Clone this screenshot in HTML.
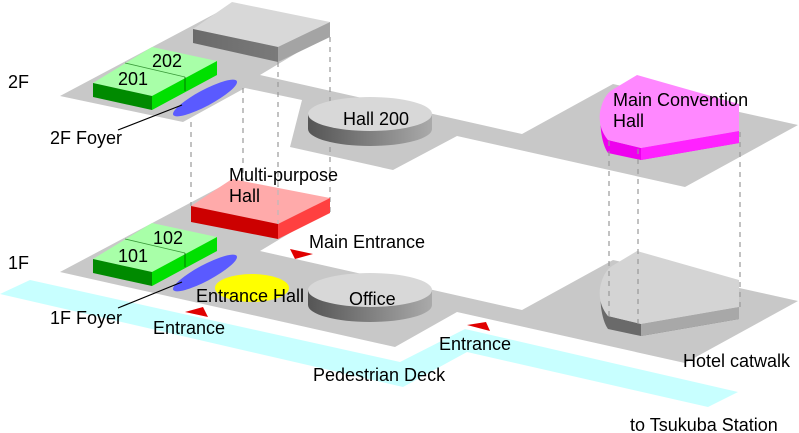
<!DOCTYPE html>
<html><head><meta charset="utf-8"><style>
html,body{margin:0;padding:0;background:#fff}
svg{display:block}
text{font-family:"Liberation Sans",Arial,sans-serif;font-size:18px;fill:#000}
</style></head><body>
<svg width="799" height="433" viewBox="0 0 799 433" xmlns="http://www.w3.org/2000/svg">
<defs>
<linearGradient id="cyl" x1="0" x2="1" y1="0" y2="0"><stop offset="0" stop-color="#555"/><stop offset="1" stop-color="#aaa"/></linearGradient>
<linearGradient id="frontg" x1="0" x2="1"><stop offset="0" stop-color="#6a6a6a"/><stop offset="1" stop-color="#7a7a7a"/></linearGradient>
</defs>
<polygon points="0,294 30,280 400,362 465,329 738,392 708,407 467,352 403,387" fill="#c8ffff"/>
<polygon points="60,96 222,10 330,33 260,75 522,134 613,84 798,125 685,187 457,136 393,170 290,147 302,100 245,88 183,122" fill="#c8c8c8"/>
<polygon points="60,272 222,186 330,209 260,251 522,310 613,260 798,301 685,363 457,312 395,347" fill="#c8c8c8"/>

<g stroke="#999" stroke-width="1.2" stroke-dasharray="5,5" fill="none">
<line x1="191" y1="122" x2="191" y2="206"/>
<line x1="243" y1="88" x2="243" y2="210"/>
<line x1="278" y1="62" x2="278" y2="224"/>
<line x1="330" y1="37" x2="330" y2="213"/>
</g>

<polygon points="193,29 232,2 330,22 278,47" fill="#d8d8d8"/>
<polygon points="193,29 278,47 278,62 193,43" fill="url(#frontg)"/>
<polygon points="278,47 330,22 330,37 278,62" fill="#a4a4a4"/>

<polygon points="93,83 152,47 217,61 152,96" fill="#a8ffa8"/>
<polygon points="93,83 152,96 152,110 93,97" fill="#008a00"/>
<polygon points="152,96 217,61 217,75 152,110" fill="#00e000"/>
<line x1="125" y1="63" x2="185" y2="77" stroke="#3a9a3a" stroke-width="0.8"/>
<line x1="185" y1="77" x2="185" y2="91" stroke="#006000" stroke-width="0.8"/>
<text x="118" y="85">201</text>
<text x="152" y="67">202</text>
<ellipse cx="205" cy="98" rx="36" ry="8" transform="rotate(-28 205 98)" fill="#5a5aff"/>
<line x1="182" y1="105" x2="118" y2="130" stroke="#000" stroke-width="1.2"/>
<text x="50" y="144">2F Foyer</text>
<text x="8" y="88">2F</text>

<path d="M308,114 v15 a62,17 0 0 0 124,0 v-15 z" fill="url(#cyl)"/>
<ellipse cx="370" cy="114" rx="62" ry="17" fill="#d8d8d8"/>
<text x="343" y="125">Hall 200</text>

<path d="M600,117 L601,131 Q603,146 608,153 L641,160 L739,143 L739,131 L641,148 L608,140 Q600,130 600,117 Z" fill="#ee00ee"/>
<polygon points="641,148 739,131 739,143 641,160" fill="#ff22ff"/>
<path d="M637,75 L739,104 L739,131 L641,148 L608,140 Q598,128 600,112 Q603,96 612,90 Z" fill="#ff88ff"/>
<text x="613" y="106">Main Convention</text>
<text x="613" y="127">Hall</text>

<polygon points="191,206 232,179 330,198 278,224" fill="#ffaaaa"/>
<polygon points="191,206 278,224 278,239 191,222" fill="#cc0000"/>
<polygon points="278,224 330,198 330,213 278,239" fill="#ff4040"/>
<line x1="278" y1="180" x2="278" y2="224" stroke="#bbb" stroke-width="1.2" stroke-dasharray="5,5"/>
<text x="229" y="181">Multi-purpose</text>
<text x="229" y="202">Hall</text>

<polygon points="93,259 152,223 217,237 152,272" fill="#a8ffa8"/>
<polygon points="93,259 152,272 152,286 93,273" fill="#008a00"/>
<polygon points="152,272 217,237 217,251 152,286" fill="#00e000"/>
<line x1="125" y1="239" x2="185" y2="253" stroke="#3a9a3a" stroke-width="0.8"/>
<line x1="185" y1="253" x2="185" y2="267" stroke="#006000" stroke-width="0.8"/>
<text x="118" y="262">101</text>
<text x="153" y="244">102</text>
<ellipse cx="205" cy="273" rx="36" ry="8" transform="rotate(-28 205 273)" fill="#5a5aff"/>
<line x1="182" y1="282" x2="118" y2="308" stroke="#000" stroke-width="1.2"/>
<text x="50" y="324">1F Foyer</text>
<text x="8" y="269">1F</text>

<ellipse cx="252" cy="288" rx="37" ry="14" fill="#ffff00"/>
<text x="196" y="302">Entrance Hall</text>

<path d="M308,290 v15 a62,17 0 0 0 124,0 v-15 z" fill="url(#cyl)"/>
<ellipse cx="370" cy="290" rx="62" ry="17" fill="#d8d8d8"/>
<text x="349" y="305">Office</text>

<path d="M600,293 L601,307 Q603,322 608,329 L641,336 L739,319 L739,307 L641,324 L608,316 Q600,306 600,293 Z" fill="#6a6a6a"/>
<polygon points="641,324 739,307 739,319 641,336" fill="#a8a8a8"/>
<path d="M637,251 L739,280 L739,307 L641,324 L608,316 Q598,304 600,288 Q603,272 612,266 Z" fill="#d4d4d4"/>
<g stroke="#999" stroke-width="1.2" stroke-dasharray="5,5" fill="none">
<line x1="609" y1="141" x2="609" y2="318"/>
<line x1="638" y1="149" x2="638" y2="324"/>
<line x1="740" y1="132" x2="740" y2="308"/>
</g>

<polygon points="290,249 313,254 295,259" fill="#e00000"/>
<polygon points="185,312 203,307 208,317" fill="#e00000"/>
<polygon points="467,325 486,322 490,331" fill="#e00000"/>

<text x="309" y="248">Main Entrance</text>
<text x="153" y="334">Entrance</text>
<text x="439" y="350">Entrance</text>
<text x="313" y="381">Pedestrian Deck</text>
<text x="683" y="367">Hotel catwalk</text>
<text x="630" y="431">to Tsukuba Station</text>
</svg>
</body></html>
